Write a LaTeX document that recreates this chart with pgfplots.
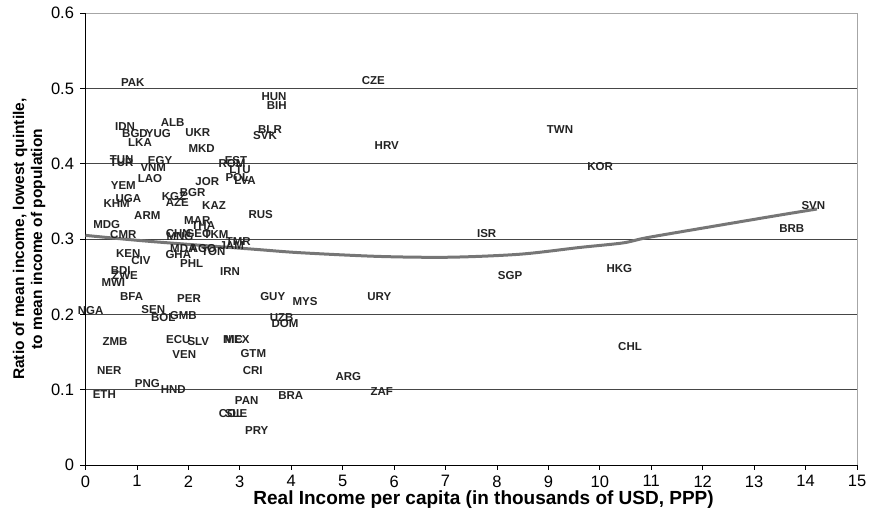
\documentclass[border=0pt]{standalone}
\usepackage{pgfplots}
\pgfplotsset{compat=1.18}
\usepackage{pgfplotstable}
\usepackage{fontspec}
\setmainfont{Liberation Sans}
\definecolor{curvegray}{RGB}{118,118,118}
\definecolor{gridgray}{RGB}{70,70,70}
\definecolor{labelcol}{RGB}{35,35,35}
\pgfplotstableread{
x y label
0.918 0.508 PAK
0.768 0.449 IDN
0.962 0.440 BGD
1.416 0.440 YUG
1.060 0.428 LKA
1.696 0.455 ALB
2.182 0.441 UKR
2.259 0.421 MKD
0.704 0.406 TUN
0.704 0.402 TUR
1.449 0.405 EGY
1.318 0.395 VNM
0.735 0.371 YEM
1.254 0.381 LAO
2.368 0.376 JOR
2.084 0.362 BGR
1.721 0.356 KGZ
1.785 0.348 AZE
0.832 0.354 UGA
0.607 0.347 KHM
2.499 0.344 KAZ
2.848 0.401 ROM
2.926 0.404 EST
3.004 0.393 LTU
2.952 0.382 POL
3.101 0.378 LVA
3.665 0.489 HUN
3.718 0.477 BIH
3.587 0.446 BLR
3.490 0.438 SVK
1.202 0.332 ARM
0.412 0.319 MDG
2.174 0.325 MAR
2.290 0.318 THA
3.407 0.333 RUS
0.735 0.306 CMR
1.804 0.308 CHN
1.837 0.303 MNG
2.193 0.307 GEO
2.537 0.306 TKM
2.971 0.297 TMR
2.843 0.292 JAM
1.902 0.287 MDA
2.285 0.288 AGO
2.485 0.283 TON
1.804 0.279 GHA
2.065 0.268 PHL
0.832 0.281 KEN
1.079 0.271 CIV
0.684 0.258 BDI
0.768 0.251 ZWE
0.541 0.242 MWI
2.810 0.257 IRN
0.898 0.224 BFA
2.012 0.221 PER
0.101 0.205 NGA
1.318 0.206 SEN
1.513 0.196 BOL
1.902 0.199 GMB
0.574 0.164 ZMB
1.804 0.167 ECU
2.193 0.164 SLV
2.868 0.167 NIC
2.946 0.167 MEX
3.640 0.224 GUY
4.268 0.217 MYS
3.815 0.196 UZB
3.879 0.188 DOM
1.921 0.147 VEN
3.263 0.148 GTM
0.463 0.126 NER
3.251 0.126 CRI
1.202 0.108 PNG
1.707 0.100 HND
0.366 0.093 ETH
3.134 0.086 PAN
2.829 0.069 COL
2.926 0.069 SLE
3.329 0.046 PRY
3.990 0.092 BRA
5.110 0.118 ARG
5.759 0.097 ZAF
5.712 0.224 URY
8.254 0.251 SGP
10.379 0.261 HKG
10.587 0.158 CHL
10.004 0.396 KOR
14.151 0.344 SVN
13.731 0.314 BRB
9.226 0.446 TWN
5.857 0.424 HRV
5.596 0.511 CZE
7.800 0.307 ISR
}\countries
\pgfplotstableread{
x y
0 0.305
1.254 0.297
3.199 0.287
4.171 0.282
5.726 0.277
7.09 0.276
8.45 0.280
9.615 0.289
10.45 0.295
10.92 0.302
12.20 0.317
13.50 0.332
14.22 0.340
}\curve
\begin{document}
\begin{tikzpicture}
\useasboundingbox (-85.5pt,-56pt) rectangle (787.5pt,465pt);
\begin{axis}[
  at={(0,0)}, anchor=south west,
  scale only axis, width=771.5pt, height=451.7pt,
  xmin=0, xmax=15, ymin=0, ymax=0.6,
  xtick={0,1,...,15},
  ytick={0,0.1,0.2,0.3,0.4,0.5,0.6},
  yticklabels={0,0.1,0.2,0.3,0.4,0.5,0.6},
  axis line style={draw=none},
  tick pos=left,
  tick align=outside,
  major tick length=5pt,
  tick style={black, line width=0.8pt},
  ymajorgrids=true,
  major grid style={gridgray, line width=0.9pt},
  tick label style={font=\fontsize{16.5}{19}\selectfont},
  /pgf/number format/assume math mode=true,
  xticklabel style={yshift=-2pt},
  yticklabel style={xshift=-3pt},
  xlabel={\textbf{Real Income per capita (in thousands of USD, PPP)}},
  xlabel style={font=\fontsize{19}{22}\selectfont, at={(axis description cs:0.516,0)}, anchor=center, yshift=-35pt},
  ylabel={\textbf{Ratio of mean income, lowest quintile,}\\\textbf{to mean income of population}},
  ylabel style={font=\fontsize{15.5}{18}\selectfont, align=center, at={(axis description cs:-0.0732,0.5)}, anchor=center},
  clip=false,
]
\draw[gray!70, line width=0.9pt] (axis cs:0,0.6) -- (axis cs:15,0.6) -- (axis cs:15,0);
\draw[black, line width=0.9pt] (axis cs:0,0.6) -- (axis cs:0,0) -- (axis cs:15,0);
\addplot[curvegray, line width=3pt, smooth, tension=0.5] table[x=x, y=y] {\curve};
\addplot[only marks, mark=none,
  nodes near coords, point meta=explicit symbolic,
  every node near coord/.append style={anchor=center, inner sep=0pt,
    font=\fontsize{11.5}{13}\selectfont\bfseries, text=labelcol}]
  table[x=x, y=y, meta=label] {\countries};
\end{axis}
\end{tikzpicture}
\end{document}
